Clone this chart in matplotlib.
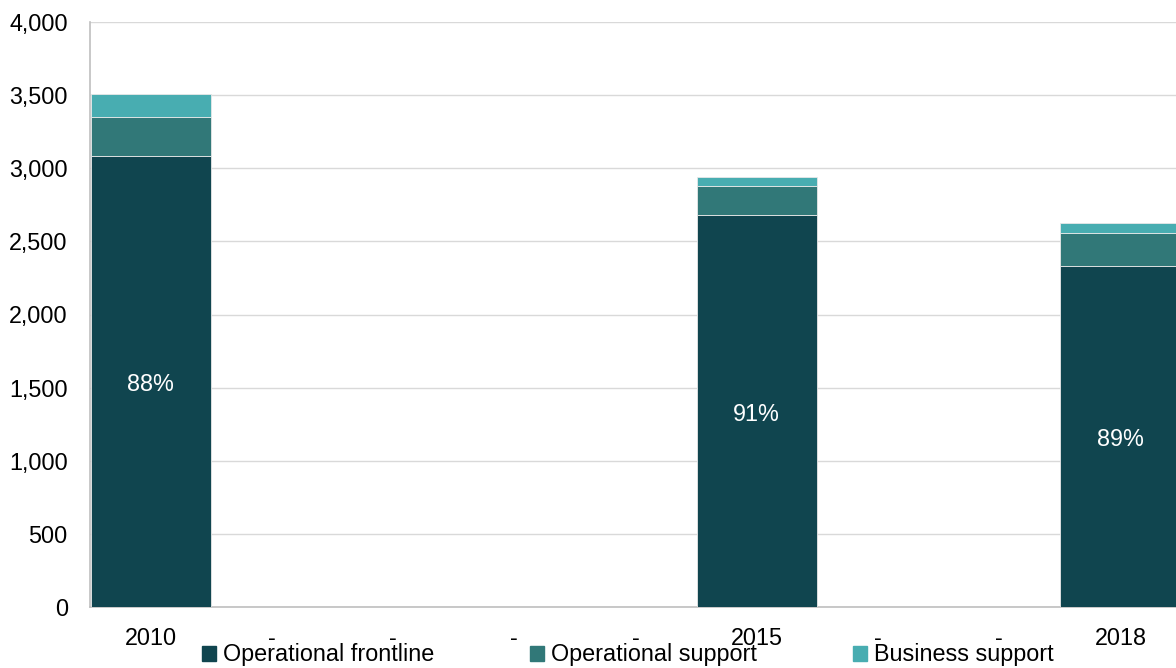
import matplotlib.pyplot as plt
import numpy as np

plt.rcParams['font.family'] = ['Liberation Sans', 'DejaVu Sans']

# categories along the x axis (blank years shown as "-")
categories = ['2010', '-', '-', '-', '-', '2015', '-', '-', '2018']
frontline = [3085, 0, 0, 0, 0, 2680, 0, 0, 2335]
op_support = [265, 0, 0, 0, 0, 198, 0, 0, 222]
business = [158, 0, 0, 0, 0, 62, 0, 0, 70]
pct_labels = ['88%', '', '', '', '', '91%', '', '', '89%']

colors = ['#10454F', '#317878', '#48ADB1']
names = ['Operational frontline', 'Operational support', 'Business support']

fig = plt.figure(figsize=(11.76, 6.68), dpi=100)
ax = fig.add_axes([90 / 1176, 61 / 668, 1091 / 1176, 585 / 668])

x = np.arange(len(categories))
ax.bar(x, frontline, width=0.99, color=colors[0], edgecolor='#E8E8E8', linewidth=0.6, label=names[0], zorder=3)
ax.bar(x, op_support, width=0.99, bottom=frontline, color=colors[1], edgecolor='#E8E8E8', linewidth=0.6, label=names[1], zorder=3)
bottom2 = [a + b for a, b in zip(frontline, op_support)]
ax.bar(x, business, width=0.99, bottom=bottom2, color=colors[2], edgecolor='#E8E8E8', linewidth=0.6, label=names[2], zorder=3)

# percentage labels in the middle of the frontline segment
for xi, v, lab in zip(x, frontline, pct_labels):
    if lab:
        ax.annotate(lab, (xi, v / 2), xytext=(0, -2.5), textcoords='offset points',
                    ha='center', va='center', color='white', fontsize=16.8)

ax.set_xlim(-0.5, len(categories) - 0.5)
ax.set_ylim(0, 4000)
ax.set_yticks(range(0, 4001, 500))
ax.set_yticklabels([f'{v:,}' for v in range(0, 4001, 500)])
ax.set_xticks(x)
ax.set_xticklabels(categories)
ax.tick_params(axis='both', length=0, labelsize=16.8, colors='black')
ax.tick_params(axis='y', pad=16)
ax.tick_params(axis='x', pad=14.5)

ax.grid(axis='y', color='#D9D9D9', linewidth=1, zorder=0)
for s in ['top', 'right']:
    ax.spines[s].set_visible(False)
ax.spines['left'].set_color('#BFBFBF')
ax.spines['bottom'].set_color('#BFBFBF')
ax.spines['left'].set_linewidth(1.2)
ax.spines['bottom'].set_linewidth(1.2)

handles = [plt.Rectangle((0, 0), 1, 1, color=c) for c in colors]
fig.legend(handles, names, loc='center', bbox_to_anchor=(628 / 1176, 13 / 668), ncol=3,
           frameon=False, fontsize=16.8, handlelength=0.6, handleheight=0.6,
           handletextpad=0.3, columnspacing=4.1, borderpad=0)

fig.savefig('out.png', dpi=100)
